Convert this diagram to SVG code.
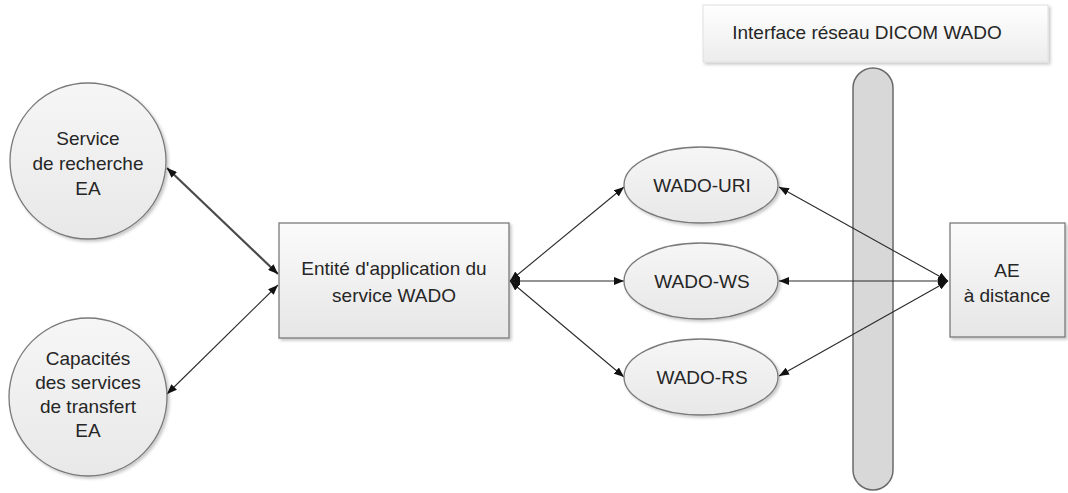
<svg xmlns="http://www.w3.org/2000/svg" width="1068" height="493" viewBox="0 0 1068 493">
<style>
  text { font-family: "Liberation Sans", Arial, sans-serif; font-size: 19px; fill: #262626; text-anchor: middle; }
  .shape { stroke: #7a7a7a; stroke-width: 1.3; filter: url(#sh); }
  .conn { fill: none; stroke: #2a2a2a; stroke-width: 1.1; marker-start: url(#ah); marker-end: url(#ah); }
  .thick { stroke: #4a4a4a; stroke-width: 2.2; }
</style>
<defs>
  <linearGradient id="gRect" x1="0" y1="0" x2="0" y2="1">
    <stop offset="0" stop-color="#fbfbfb"/>
    <stop offset="1" stop-color="#e6e6e6"/>
  </linearGradient>
  <linearGradient id="gEll" x1="0" y1="0" x2="0" y2="1">
    <stop offset="0" stop-color="#f6f6f6"/>
    <stop offset="1" stop-color="#e8e8e8"/>
  </linearGradient>
  <linearGradient id="gHdr" x1="0" y1="0" x2="0" y2="1">
    <stop offset="0" stop-color="#ffffff"/>
    <stop offset="1" stop-color="#ececec"/>
  </linearGradient>
  <filter id="sh" x="-10%" y="-10%" width="125%" height="125%">
    <feDropShadow dx="2" dy="2" stdDeviation="1.5" flood-color="#000" flood-opacity="0.22"/>
  </filter>
  <marker id="ah" viewBox="0 0 10 8" refX="10" refY="4" markerWidth="10" markerHeight="8" markerUnits="userSpaceOnUse" orient="auto-start-reverse">
    <path d="M0,0 L10,4 L0,8 Z" fill="#111"/>
  </marker>
</defs>

<g id="interface-label">
  <rect x="703" y="5" width="345" height="57" fill="url(#gHdr)" stroke="#e0e0e0" stroke-width="1" filter="url(#sh)"/>
  <text x="867" y="39">Interface réseau DICOM WADO</text>
</g>

<g id="network-bar">
  <rect x="853" y="68" width="40" height="422" rx="20" ry="20" fill="#d8d8d8" stroke="#6a6a6a" stroke-width="1.5"/>
</g>

<g id="connectors">
  <line class="conn thick" x1="167" y1="168" x2="278" y2="274"/>
  <line class="conn" x1="167" y1="394" x2="278" y2="285"/>
  <line class="conn" x1="510" y1="281" x2="624" y2="187"/>
  <line class="conn" x1="510" y1="281" x2="624" y2="281"/>
  <line class="conn" x1="510" y1="281" x2="624" y2="377"/>
  <line class="conn" x1="948" y1="281" x2="779" y2="187"/>
  <line class="conn" x1="948" y1="281" x2="779" y2="281"/>
  <line class="conn" x1="948" y1="281" x2="779" y2="376"/>
</g>

<g id="service-recherche">
  <circle class="shape" cx="88" cy="161" r="78" fill="url(#gEll)"/>
  <text x="88" y="145">Service</text>
  <text x="88" y="170">de recherche</text>
  <text x="88" y="195">EA</text>
</g>

<g id="capacites-transfert">
  <circle class="shape" cx="88" cy="397" r="79" fill="url(#gEll)"/>
  <text x="88" y="365">Capacités</text>
  <text x="88" y="389">des services</text>
  <text x="88" y="413">de transfert</text>
  <text x="88" y="437">EA</text>
</g>

<g id="entite-wado">
  <rect class="shape" x="279" y="223" width="230" height="115" fill="url(#gRect)"/>
  <text x="394" y="275">Entité d'application du</text>
  <text x="394" y="302">service WADO</text>
</g>

<g id="wado-uri">
  <ellipse class="shape" cx="701" cy="185" rx="77" ry="38" fill="url(#gEll)"/>
  <text x="702" y="192">WADO-URI</text>
</g>

<g id="wado-ws">
  <ellipse class="shape" cx="701" cy="281" rx="77" ry="38" fill="url(#gEll)"/>
  <text x="702" y="288">WADO-WS</text>
</g>

<g id="wado-rs">
  <ellipse class="shape" cx="701" cy="377" rx="77" ry="38" fill="url(#gEll)"/>
  <text x="702" y="384">WADO-RS</text>
</g>

<g id="ae-distance">
  <rect class="shape" x="950" y="223" width="115" height="114" fill="url(#gRect)"/>
  <text x="1007" y="277">AE</text>
  <text x="1007" y="302">à distance</text>
</g>
</svg>
